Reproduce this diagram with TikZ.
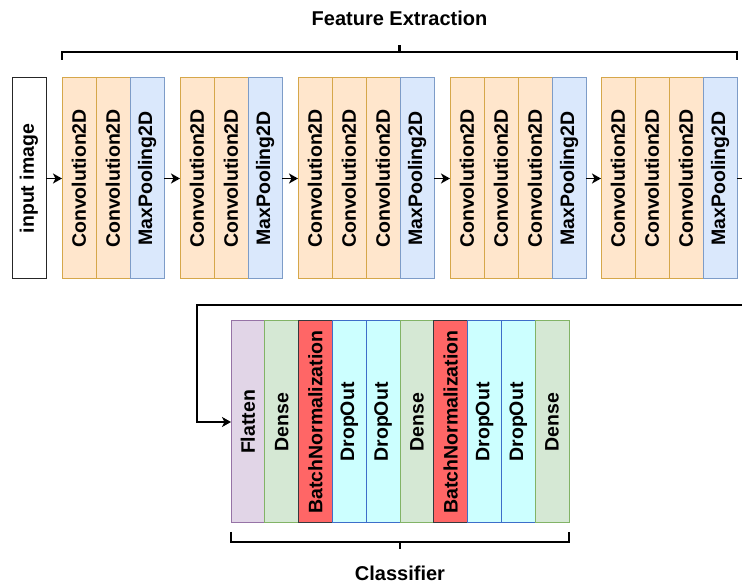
\documentclass[tikz,border=0pt]{standalone}
\usepackage{graphicx}
\usepackage{fontspec}
\setmainfont{Liberation Sans}
\usepackage{tikz}
\usetikzlibrary{arrows.meta,positioning,calc}
\newcommand{\vlbl}[1]{\rotatebox{90}{#1}}
\definecolor{convfill}{HTML}{FFE6CC}
\definecolor{convline}{HTML}{D6A74A}
\definecolor{poolfill}{HTML}{DAE8FC}
\definecolor{poolline}{HTML}{7D9CC8}
\definecolor{flatfill}{HTML}{E1D5E7}
\definecolor{flatline}{HTML}{9673A6}
\definecolor{densefill}{HTML}{D5E8D4}
\definecolor{denseline}{HTML}{82B366}
\definecolor{bnfill}{HTML}{FF6666}
\definecolor{bnline}{HTML}{36393D}
\definecolor{dropfill}{HTML}{CCFFFF}
\definecolor{dropline}{HTML}{3D6EC9}

\begin{document}
\begin{tikzpicture}[x=1pt,y=1pt,
  >={Stealth[length=9pt,width=10pt,inset=2.5pt]},
  layer/.style={draw,line width=1pt,outer sep=0pt,inner sep=0pt,minimum width=34pt,minimum height=201pt,font=\bfseries\fontsize{19.5}{21}\selectfont},
  inimg/.style={layer,fill=white,draw=black!85},
  conv/.style={layer,fill=convfill,draw=convline},
  pool/.style={layer,fill=poolfill,draw=poolline},
  clf/.style={layer,minimum width=33.8pt,minimum height=202pt},
  flat/.style={clf,fill=flatfill,draw=flatline},
  dense/.style={clf,fill=densefill,draw=denseline},
  bnorm/.style={clf,fill=bnfill,draw=bnline},
  drop/.style={clf,fill=dropfill,draw=dropline},
  arrow/.style={->,line width=1.4pt},
  brk/.style={line width=2.4pt},
  title/.style={font=\bfseries\fontsize{20}{22}\selectfont}
]
\clip (0,0) rectangle (742,586);
\node[inimg] (inp) at (29,407.5) {\vlbl{input image}};
% five convolution blocks, each closed by a pooling layer
\foreach \b/\x/\n in {1/62/2,2/180/2,3/298/3,4/450/3,5/601/3} {
  \foreach \c in {1,...,\n}
    \node[conv] (b\b c\c) at (\x+34*\c-17,407.5) {\vlbl{Convolution2D}};
  \node[pool] (b\b p) at (\x+34*\n+17,407.5) {\vlbl{MaxPooling2D}};
}
\draw[arrow] (inp) -- (b1c1);
\foreach \b [evaluate=\b as \nb using int(\b+1)] in {1,...,4}
  \draw[arrow] (b\b p) -- (b\nb c1);

% classifier head
\node[flat] (fl) at (247.9,164) {\vlbl{Flatten}};
\foreach \name/\sty/\txt [remember=\name as \prev (initially fl)] in
  {d1/dense/Dense,bn1/bnorm/BatchNormalization,do1/drop/DropOut,do2/drop/DropOut,d2/dense/Dense,
   bn2/bnorm/BatchNormalization,do3/drop/DropOut,do4/drop/DropOut,d3/dense/Dense}
  \node[\sty,right=0pt of \prev] (\name) {\vlbl{\txt}};

\coordinate (bend) at (197,281);
\draw[arrow] (b5p.east) -- ++(24,0) |- (bend) |- (fl.west);

% brackets
\draw[brk] ([yshift=18pt]b1c1.north west) |- ([yshift=26pt]b5p.north east) -- ([yshift=18pt]b5p.north east);
\draw[brk] ($(b1c1.north west)!.5!(b5p.north east)+(0,26)$) -- ++(0,7);
\node[title] (fe) at (399.5,568) {Feature Extraction};
\draw[brk] ([yshift=-9pt]fl.south west) |- ([yshift=-19pt]d3.south east) -- ([yshift=-9pt]d3.south east);
\draw[brk] ($(fl.south west)!.5!(d3.south east)+(0,-19)$) -- ++(0,-7);
\node[title] (cl) at (400,13) {Classifier};
\end{tikzpicture}
\end{document}
